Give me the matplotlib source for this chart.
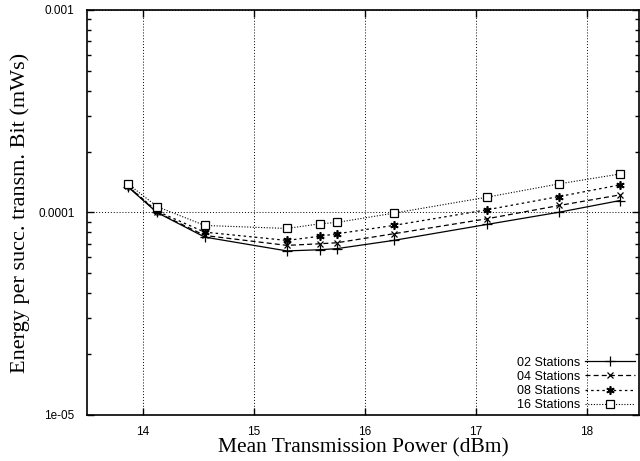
import matplotlib
matplotlib.use("Agg")
import matplotlib.pyplot as plt
from matplotlib.ticker import FixedLocator, LogLocator, NullFormatter

power_dbm = [13.87, 14.13, 14.56, 15.30, 15.60, 15.75, 16.26, 17.10, 17.75, 18.30]
st02 = [1.335e-4, 1.000e-4, 0.756e-4, 0.646e-4, 0.655e-4, 0.663e-4, 0.728e-4, 0.873e-4, 1.003e-4, 1.146e-4]
st04 = [1.348e-4, 1.003e-4, 0.770e-4, 0.688e-4, 0.701e-4, 0.709e-4, 0.785e-4, 0.931e-4, 1.083e-4, 1.222e-4]
st08 = [1.348e-4, 1.015e-4, 0.800e-4, 0.728e-4, 0.764e-4, 0.785e-4, 0.863e-4, 1.031e-4, 1.199e-4, 1.369e-4]
st16 = [1.385e-4, 1.070e-4, 0.863e-4, 0.834e-4, 0.880e-4, 0.893e-4, 0.992e-4, 1.190e-4, 1.385e-4, 1.550e-4]
labels = ["02 Stations", "04 Stations", "08 Stations", "16 Stations"]
x_ticks = [14, 15, 16, 17, 18]
y_ticks = [1e-5, 1e-4, 1e-3]
y_ticklabels = ["1e-05", "0.0001", "0.001"]

fig = plt.figure(figsize=(6.4, 4.61), dpi=100)
ax = fig.add_axes([87/640, 1-415/461, (639-87)/640, (415-10)/461])

ax.plot(power_dbm, st02, color="black", lw=0.9, ls="-", marker="+", ms=7, mew=0.9, label=labels[0])
ax.plot(power_dbm, st04, color="black", lw=0.9, ls=(0, (4, 2.5)), marker="x", ms=5, mew=0.9, label=labels[1])
ax.plot(power_dbm, st08, color="black", lw=0.9, ls=(0, (2, 2.5)), marker=(6, 2, 0), ms=6, mew=1.2, label=labels[2])
ax.plot(power_dbm, st16, color="black", lw=0.8, ls=(0, (1, 1.5)), marker="s", ms=5.5, mew=0.9, mfc="white", label=labels[3])

ax.set_yscale("log")
ax.set_xlim(13.5, 18.47)
ax.set_ylim(1e-5, 1e-3)
ax.xaxis.set_major_locator(FixedLocator(x_ticks))
ax.yaxis.set_major_locator(FixedLocator(y_ticks))
ax.set_yticklabels(y_ticklabels)
ax.yaxis.set_minor_locator(LogLocator(base=10, subs=range(2, 10)))
ax.yaxis.set_minor_formatter(NullFormatter())
ax.grid(True, which="major", ls=(0, (1, 2)), lw=0.7, color="black")
ax.tick_params(which="both", direction="in", top=True, right=True, labelsize=8.5)
ax.tick_params(which="major", length=5, width=1)
ax.tick_params(which="minor", length=3, width=1)
ax.tick_params(axis="x", pad=8)
ax.tick_params(axis="y", pad=9)
for lbl in ax.get_xticklabels() + ax.get_yticklabels():
    lbl.set_family("Liberation Sans")
for s in ax.spines.values():
    s.set_linewidth(1.2)

ax.set_xlabel("Mean Transmission Power (dBm)", family="Liberation Serif", fontsize=15.5, labelpad=0)
ax.set_ylabel("Energy per succ. transm. Bit (mWs)", family="Liberation Serif", fontsize=16, labelpad=6)

leg = ax.legend(loc="lower right", frameon=False, markerfirst=False, handlelength=4.0,
                prop={"family": "Liberation Sans", "size": 9}, labelspacing=0.18,
                borderaxespad=0.0, borderpad=0.3, handletextpad=0.4)

fig.savefig("out.png", dpi=100)
